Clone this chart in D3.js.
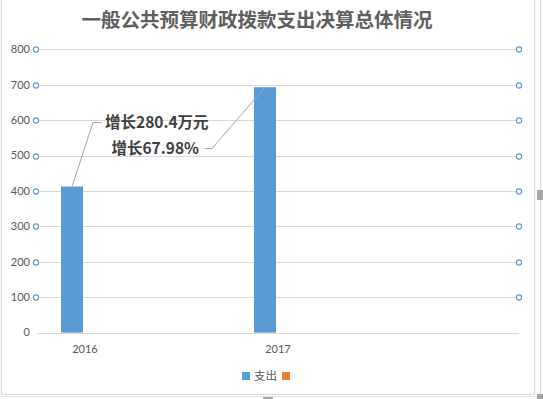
<!DOCTYPE html>
<html>
<head>
<meta charset="utf-8">
<script src="https://cdn.jsdelivr.net/npm/d3@7"></script>
<style>
  body { margin: 0; background: #fff; }
  svg { display: block; }
</style>
</head>
<body>
<div class="chart"></div>
<script>
const years = ["2016", "2017"];
const spending = [412.5, 692.9];
const yTicks = [0, 100, 200, 300, 400, 500, 600, 700, 800];
const seriesNames = ["支出", ""];
const notes = ["增长280.4万元", "增长67.98%"];

const width = 543;
const height = 399;
const svg = d3.select('.chart')
	.append('svg')
	.attr('width', width)
	.attr('height', height)

// frame
svg.append("rect")
	.attr("x", 1.5).attr("y", -2)
	.attr("width", 533).attr("height", 396.5)
	.attr("fill", "none")
	.attr("stroke", "#d9d9d9")
svg.append("line")
	.attr("x1", 540.5).attr("x2", 540.5).attr("y1", 0).attr("y2", 396)
	.attr("stroke", "#d9d9d9")
svg.append("line")
	.attr("x1", 0).attr("x2", 537).attr("y1", 396.5).attr("y2", 396.5)
	.attr("stroke", "#e3e3e3")
svg.append("rect").attr("x", 537).attr("y", 190).attr("width", 6).attr("height", 10).attr("fill", "#a6a6a6")
svg.append("rect").attr("x", 537).attr("y", 394).attr("width", 6).attr("height", 5).attr("fill", "#a6a6a6")
svg.append("rect").attr("x", 263).attr("y", 397).attr("width", 10).attr("height", 2).attr("fill", "#a6a6a6")

svg.append("text")
	.attr("x", 257)
	.attr("y", 27)
	.attr("text-anchor", "middle")
	.attr("font-family", "'Noto Sans CJK SC'")
	.attr("font-size", 19.5)
	.attr("font-weight", 600)
	.attr("fill", "#5f5f5f")
	.text("一般公共预算财政拨款支出决算总体情况")

const y = d3.scaleLinear().domain([0, 800]).range([332.6, 49.3]);
const x = d3.scalePoint().domain(years).range([85, 278]);

// gridlines
svg.selectAll('.grid')
	.data(yTicks)
	.enter()
	.append("line")
	.attr("x1", 37)
	.attr("x2", 519)
	.attr("y1", d => Math.round(y(d)) + 0.5)
	.attr("y2", d => Math.round(y(d)) + 0.5)
	.attr("stroke", "#d9d9d9")

// tick labels
svg.selectAll('.ytick')
	.data(yTicks)
	.enter()
	.append("text")
	.attr("x", 30)
	.attr("y", d => y(d))
	.attr("dy", "0.35em")
	.attr("text-anchor", "end")
	.attr("font-family", "Lato, 'Open Sans', sans-serif")
	.attr("font-size", 11)
	.attr("fill", "#595959")
	.text(d => d)

// circle markers on both ends
const marks = yTicks.filter(d => d > 0);
[36, 519].forEach(cx => {
	svg.selectAll(null)
	.data(marks)
	.enter()
	.append("circle")
	.attr("cx", cx)
	.attr("cy", d => Math.round(y(d)) + 0.5)
	.attr("r", 2.6)
	.attr("fill", "#fff")
	.attr("stroke", "#5b9bd5")
	.attr("stroke-width", 1.1)
})

// bars
svg.selectAll('.bar')
	.data(spending)
	.enter()
	.append("rect")
	.attr("x", (d, i) => x(years[i]) - 24)
	.attr("y", d => y(d))
	.attr("width", 22)
	.attr("height", d => y(0) - y(d))
	.attr("fill", "#5b9bd5")

svg.selectAll('.xtick')
	.data(years)
	.enter()
	.append("text")
	.attr("x", d => x(d))
	.attr("y", 353)
	.attr("text-anchor", "middle")
	.attr("font-family", "Lato, 'Open Sans', sans-serif")
	.attr("font-size", 11)
	.attr("fill", "#595959")
	.text(d => d)

// annotations
svg.append("polyline")
	.attr("points", [[x(years[0]) - 13, y(spending[0])], [93, 122.5], [102, 122.5]].join(" "))
	.attr("fill", "none")
	.attr("stroke", "#a6a6a6")
svg.append("polyline")
	.attr("points", [[205, 148.5], [212, 148.5], [x(years[1]) - 13, y(spending[1])]].join(" "))
	.attr("fill", "none")
	.attr("stroke", "#a6a6a6")

svg.append("text")
	.attr("x", 105).attr("y", 122)
	.attr("dy", "0.36em")
	.attr("font-family", "'Noto Sans CJK SC'")
	.attr("font-size", 15.5)
	.attr("font-weight", "bold")
	.attr("fill", "#404040")
	.text(notes[0])
svg.append("text")
	.attr("x", 199).attr("y", 148)
	.attr("dy", "0.36em")
	.attr("text-anchor", "end")
	.attr("font-family", "'Noto Sans CJK SC'")
	.attr("font-size", 15.5)
	.attr("font-weight", "bold")
	.attr("fill", "#404040")
	.text(notes[1])

// legend
svg.append("rect").attr("x", 242).attr("y", 372).attr("width", 8).attr("height", 8).attr("fill", "#5b9bd5")
svg.append("text")
	.attr("x", 254).attr("y", 376)
	.attr("dy", "0.36em")
	.attr("font-family", "'Noto Sans CJK SC'")
	.attr("font-size", 11.5)
	.attr("fill", "#595959")
	.text(seriesNames[0])
svg.append("rect").attr("x", 282).attr("y", 372).attr("width", 8).attr("height", 8).attr("fill", "#ed7d31")
</script>
</body>
</html>
